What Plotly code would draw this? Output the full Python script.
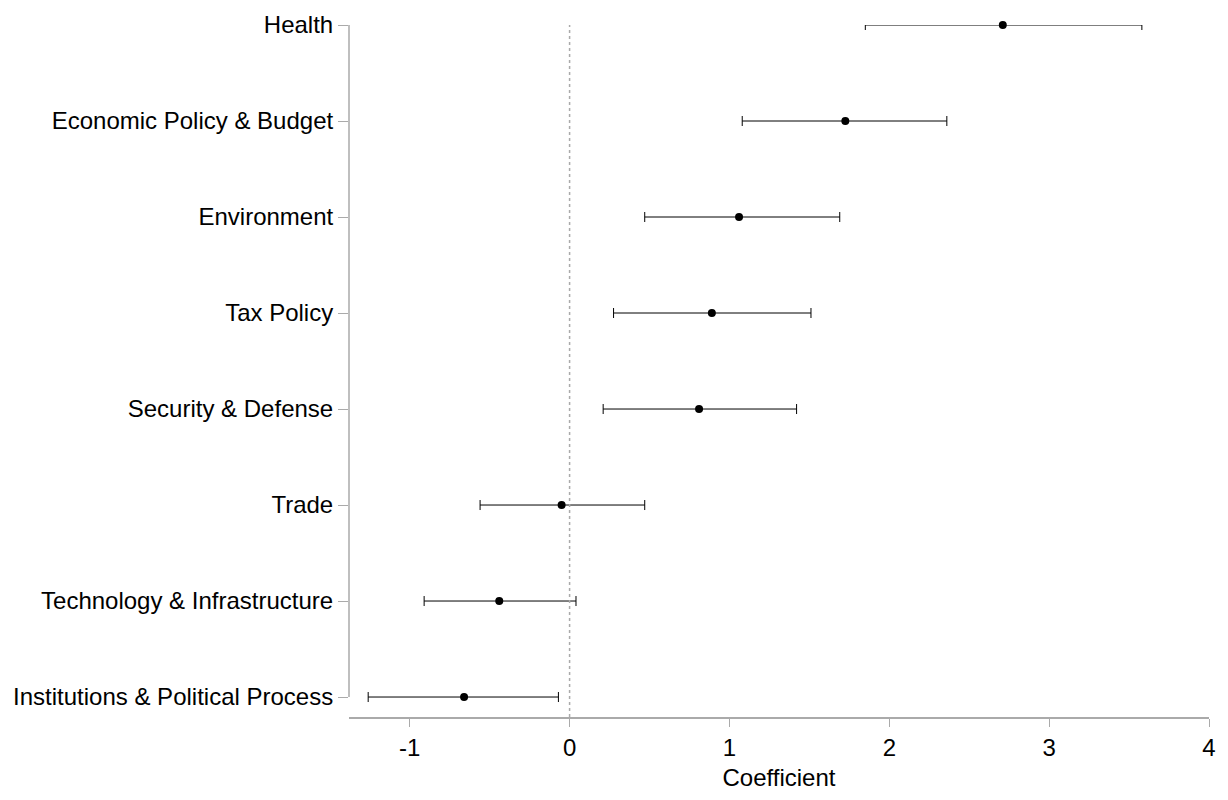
import plotly.graph_objects as go

topics = ["Institutions & Political Process", "Technology & Infrastructure", "Trade",
          "Security & Defense", "Tax Policy", "Environment",
          "Economic Policy & Budget", "Health"]
coef = [-0.66, -0.44, -0.05, 0.81, 0.89, 1.06, 1.725, 2.71]
ci_low = [-1.26, -0.91, -0.56, 0.21, 0.275, 0.47, 1.08, 1.85]
ci_high = [-0.07, 0.04, 0.47, 1.42, 1.51, 1.69, 2.36, 3.58]
x_ticks = [-1, 0, 1, 2, 3, 4]

pos = list(range(len(topics)))
fig = go.Figure(go.Scatter(
    x=coef, y=pos, mode="markers", cliponaxis=False,
    marker=dict(color="black", size=8),
    error_x=dict(type="data", symmetric=False,
                 array=[h - c for h, c in zip(ci_high, coef)],
                 arrayminus=[c - l for c, l in zip(coef, ci_low)],
                 color="black", thickness=1, width=5),
))
fig.add_vline(x=0, line=dict(color="#aaaaaa", width=1.5, dash="dot"))
# y axis line only spans the categories
fig.add_shape(type="line", xref="paper", x0=0, x1=0, y0=0, y1=len(topics) - 1,
              line=dict(color="#aaaaaa", width=1.5))
fig.update_layout(
    width=1228, height=800, plot_bgcolor="white", paper_bgcolor="white",
    margin=dict(l=341, r=27, t=17, b=91, autoexpand=False), showlegend=False,
    font=dict(family="Liberation Sans, Arial", size=24, color="black"),
)
fig.update_xaxes(range=[-1.38, 4], tickvals=x_ticks, ticktext=[str(v) for v in x_ticks],
                 showgrid=False, automargin=False,
                 zeroline=False, showline=True, linecolor="#aaaaaa", linewidth=1.5,
                 ticks="outside", ticklen=8, tickcolor="#aaaaaa",
                 title=dict(text="Coefficient", standoff=10, font=dict(size=24)))
fig.update_yaxes(range=[-0.208, 7], tickvals=pos, ticktext=topics, showgrid=False,
                 automargin=False,
                 zeroline=False, showline=False, ticks="outside", ticklen=10,
                 tickcolor="#aaaaaa")
fig.write_html("out.html")
